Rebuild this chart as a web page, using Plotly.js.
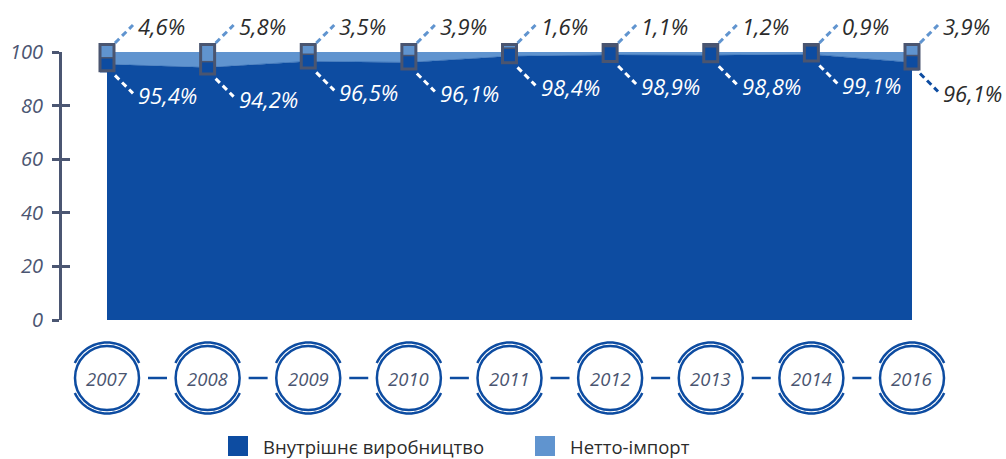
<!DOCTYPE html>
<html>
<head>
<meta charset="utf-8">
<script src="https://cdn.plot.ly/plotly-3.0.1.min.js"></script>
<style>html,body{margin:0;padding:0;background:#fff;}#chart{width:1006px;height:459px;}</style>
</head>
<body>
<div id="chart"></div>
<script>
// ---- data ----
const years = ['2007','2008','2009','2010','2011','2012','2013','2014','2016'];
const domestic = [95.4, 94.2, 96.5, 96.1, 98.4, 98.9, 98.8, 99.1, 96.1];
const netImport = [4.6, 5.8, 3.5, 3.9, 1.6, 1.1, 1.2, 0.9, 3.9];
const seriesNames = ['Внутрішнє виробництво', 'Нетто-імпорт'];
const yTicks = [0, 20, 40, 60, 80, 100];

// ---- style ----
const DARK = '#0d4ca1', LIGHT = '#6094cf', GREY = '#4a5570', AXIS = '#4b5672', TXT = '#2b2b2b';
const FONT = 'Open Sans, Noto Sans, sans-serif';
const XR = [-0.4472, 8.636];
const ML = 62, MT = 52, PW = 914, PH = 268;
const xp = i => (i - XR[0]) / (XR[1] - XR[0]);
const pyPaper = py => (MT + PH - py) / PH;
const fmt = v => v.toFixed(1).replace('.', ',') + '%';

const traces = [
  {x: years, y: domestic, type: 'scatter', mode: 'lines', stackgroup: 'one',
   line: {width: 0.5, color: DARK}, fillcolor: DARK, name: seriesNames[0], hoverinfo: 'skip', showlegend: false},
  {x: years, y: netImport, type: 'scatter', mode: 'lines', stackgroup: 'one',
   line: {width: 0.5, color: LIGHT}, fillcolor: LIGHT, name: seriesNames[1], hoverinfo: 'skip', showlegend: false},
  {x: [years[0]], y: [0], yaxis: 'y2', type: 'scatter', mode: 'none', hoverinfo: 'skip', showlegend: false}
];

const shapes = [];
const annotations = [];
const topP = 1 + 9 / PH;
const circY = pyPaper(378);

function arcPath(r, a0, a1) {
  let s = '';
  const n = 30;
  for (let k = 0; k <= n; k++) {
    const a = (a0 + (a1 - a0) * k / n) * Math.PI / 180;
    const x = (r * Math.cos(a)).toFixed(2), y = (r * Math.sin(a)).toFixed(2);
    s += (k === 0 ? 'M' : 'L') + x + ',' + y;
  }
  return s;
}

years.forEach((yr, i) => {
  const xa = xp(i);
  const botP = (domestic[i] - 3) / 100;
  const splitP = topP - netImport[i] * 1.2 / 100;
  // marker box
  shapes.push({type: 'rect', xref: 'paper', yref: 'paper', xsizemode: 'pixel', xanchor: xa,
    x0: -7, x1: 7, y0: botP, y1: topP, fillcolor: DARK, line: {width: 0}});
  shapes.push({type: 'rect', xref: 'paper', yref: 'paper', xsizemode: 'pixel', xanchor: xa,
    x0: -7, x1: 7, y0: splitP, y1: topP, fillcolor: LIGHT, line: {width: 0}});
  shapes.push({type: 'line', xref: 'paper', yref: 'paper', xsizemode: 'pixel', xanchor: xa,
    x0: -7, x1: 7, y0: splitP, y1: splitP, line: {width: 1.5, color: GREY}});
  shapes.push({type: 'rect', xref: 'paper', yref: 'paper', xsizemode: 'pixel', xanchor: xa,
    x0: -7, x1: 7, y0: botP + 1.5 / PH, y1: topP - 1.5 / PH, fillcolor: 'rgba(0,0,0,0)', line: {width: 3, color: GREY}});
  // leader lines
  shapes.push({type: 'line', xref: 'paper', yref: 'paper', xsizemode: 'pixel', ysizemode: 'pixel',
    xanchor: xa, yanchor: topP, x0: 8, x1: 26, y0: 0, y1: 18, line: {width: 3, color: LIGHT, dash: '6px,4px'}});
  const last = i === years.length - 1;
  shapes.push({type: 'line', xref: 'paper', yref: 'paper', xsizemode: 'pixel', ysizemode: 'pixel',
    xanchor: xa, yanchor: botP, x0: 8, x1: 26, y0: -3, y1: -21, line: {width: 3, color: last ? DARK : '#ffffff', dash: '6px,4px'}});
  annotations.push({xref: 'paper', yref: 'paper', x: xa, y: topP, xshift: 29, yshift: 17,
    xanchor: 'left', yanchor: 'middle', showarrow: false, text: fmt(netImport[i]),
    font: {family: FONT, size: 22, color: TXT, style: 'italic'}});
  annotations.push({xref: 'paper', yref: 'paper', x: xa, y: botP, xshift: 29, yshift: -23,
    xanchor: 'left', yanchor: 'middle', showarrow: false, text: fmt(domestic[i]),
    font: {family: FONT, size: 22, color: last ? TXT : '#ffffff', style: 'italic'}});
  // year circles
  shapes.push({type: 'circle', xref: 'paper', yref: 'paper', xsizemode: 'pixel', ysizemode: 'pixel',
    xanchor: xa, yanchor: circY, x0: -32, x1: 32, y0: -32, y1: 32, line: {width: 2.5, color: DARK}});
  shapes.push({type: 'path', xref: 'paper', yref: 'paper', xsizemode: 'pixel', ysizemode: 'pixel',
    xanchor: xa, yanchor: circY, path: arcPath(35.5, 25, 155), line: {width: 2.5, color: DARK}});
  shapes.push({type: 'path', xref: 'paper', yref: 'paper', xsizemode: 'pixel', ysizemode: 'pixel',
    xanchor: xa, yanchor: circY, path: arcPath(35.5, 205, 335), line: {width: 2.5, color: DARK}});
  if (!last) {
    shapes.push({type: 'line', xref: 'paper', yref: 'paper', xsizemode: 'pixel', ysizemode: 'pixel',
      xanchor: xa, yanchor: circY, x0: 41, x1: 60, y0: 0, y1: 0, line: {width: 2.5, color: DARK}});
  }
  annotations.push({xref: 'paper', yref: 'paper', x: xa, y: circY, xanchor: 'center', yanchor: 'middle',
    showarrow: false, text: yr, font: {family: FONT, size: 18.5, color: GREY, style: 'italic'}});
});

// legend (manual)
const legendItems = [{name: seriesNames[0], color: DARK, px: 228}, {name: seriesNames[1], color: LIGHT, px: 535}];
legendItems.forEach(it => {
  const xa = (it.px + 10 - ML) / PW;
  const ya = pyPaper(446);
  shapes.push({type: 'rect', xref: 'paper', yref: 'paper', xsizemode: 'pixel', ysizemode: 'pixel',
    xanchor: xa, yanchor: ya, x0: -10, x1: 10, y0: -10, y1: 10, fillcolor: it.color, line: {width: 0}});
  annotations.push({xref: 'paper', yref: 'paper', x: xa, y: ya, xshift: 23, xanchor: 'left', yanchor: 'middle',
    showarrow: false, text: it.name, font: {family: FONT, size: 18.5, color: TXT}});
});

const layout = {
  width: 1006, height: 459,
  margin: {l: ML, r: 1006 - ML - PW, t: MT, b: 459 - MT - PH, pad: 0},
  paper_bgcolor: '#ffffff', plot_bgcolor: '#ffffff',
  showlegend: false,
  xaxis: {type: 'category', range: XR, showline: false, showticklabels: false, ticks: '', showgrid: false, zeroline: false, fixedrange: true},
  yaxis: {range: [0, 100], tickvals: yTicks, ticktext: yTicks.map(String), ticks: 'outside', ticklen: 7, tickwidth: 3, tickcolor: AXIS,
    showline: true, linewidth: 3, linecolor: AXIS, showgrid: false, zeroline: false,
    tickfont: {family: FONT, size: 20, color: AXIS, style: 'italic'}, ticklabelstandoff: 5},
  yaxis2: {range: [0, 100], overlaying: 'y', side: 'left', tickvals: yTicks, ticks: 'inside', ticklen: 8, tickwidth: 3, tickcolor: AXIS,
    showticklabels: false, showline: false, showgrid: false, zeroline: false},
  shapes: shapes,
  annotations: annotations
};

Plotly.newPlot('chart', traces, layout, {displayModeBar: false, staticPlot: true});
</script>
</body>
</html>
